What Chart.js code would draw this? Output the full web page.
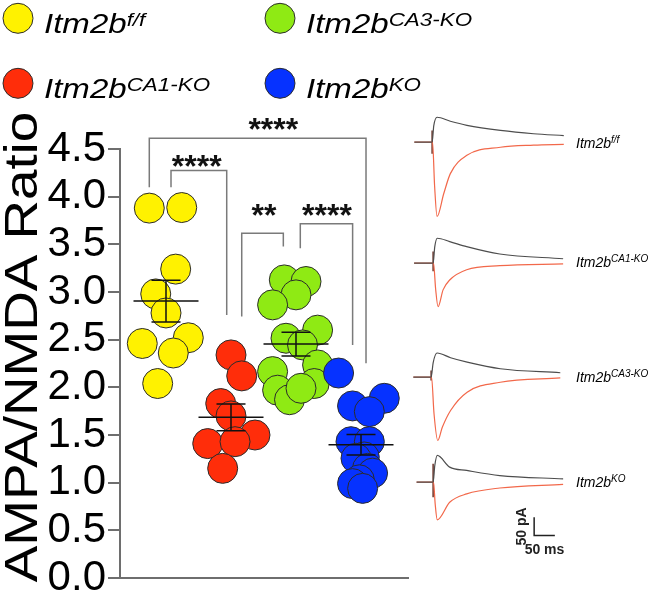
<!DOCTYPE html>
<html><head><meta charset="utf-8">
<script src="https://cdn.jsdelivr.net/npm/chart.js@4.4.0/dist/chart.umd.min.js"></script>
<style>
html,body{margin:0;padding:0;background:#fff;overflow:hidden;}
#wrap{position:relative;width:663px;height:595px;}
canvas{position:absolute;}
</style></head><body>
<div id="wrap">
<canvas id="main" width="663" height="595" style="left:0;top:0;width:663px;height:595px"></canvas>
<canvas id="tr0" width="170" height="125" style="left:398.6px;top:104.6px;width:170px;height:125px"></canvas>
<canvas id="tr1" width="170" height="125" style="left:400.2px;top:226.2px;width:170px;height:125px"></canvas>
<canvas id="tr2" width="170" height="125" style="left:397.6px;top:339.6px;width:170px;height:125px"></canvas>
<canvas id="tr3" width="170" height="125" style="left:400.2px;top:444.6px;width:170px;height:125px"></canvas>
</div>
<script>
// ---------------- DATA ----------------
const genotypeBase = 'Itm2b';
const genotypeSup = ['f/f', 'CA1-KO', 'CA3-KO', 'KO'];
const yTitle = 'AMPA/NMDA Ratio';
const yTickValues = [0, 0.5, 1, 1.5, 2, 2.5, 3, 3.5, 4, 4.5];

// AMPA/NMDA ratio per cell
const ffRatio  = [3.88, 3.886, 3.24, 2.98, 2.78, 2.46, 2.52, 2.36, 2.04];
const ca1Ratio = [2.34, 2.12, 1.83, 1.70, 1.50, 1.41, 1.43, 1.15];
const ca3Ratio = [3.127, 3.11, 2.97, 2.865, 2.60, 2.515, 2.445, 2.235, 2.165, 1.97, 2.04, 1.87, 1.99];
const koRatio  = [2.15, 1.885, 1.805, 1.745, 1.43, 1.43, 1.27, 1.256, 1.15, 1.10, 1.03, 0.99, 0.94];
// horizontal scatter (jitter) of each dot, in category units
const ffJitter  = [-0.257, 0.242, 0.149, -0.158, 0, -0.365, 0.343, 0.112, -0.128];
const ca1Jitter = [0, 0.165, -0.158, 0, 0.369, -0.358, 0.062, -0.128];
const ca3Jitter = [-0.18, 0.154, 0, -0.36, 0.332, -0.154, 0.10, 0.332, -0.36, -0.283, 0.28, -0.10, 0.077];
const koJitter  = [-0.345, 0.358, -0.13, 0.128, -0.154, 0.128, 0.05, -0.077, 0.10, 0.178, -0.026, -0.13, 0.025];

// significance brackets
const bracketLeftX   = [0.743, 1.077, 2.165, 3.066];
const bracketRightX  = [4.077, 1.934, 2.805, 3.871];
const bracketTopY    = [4.614, 4.274, 3.617, 3.715];
const bracketLeftEnd = [4.10, 4.10, 2.742, 3.46];
const bracketRightEnd= [2.253, 2.76, 3.476, 2.445];
const bracketStars   = ['****', '****', '**', '****'];
const bracketStarX   = [2.651, 1.472, 2.507, 3.476];
const bracketStarY   = [4.79, 4.40, 3.88, 3.88];

// example traces: [time ms, current pA]
const ffNmda  = [[-43,0],[0,0],[4,45],[12,68],[44,57],[84,46],[165,32],[245,23],[318,18]];
const ffAmpa  = [[-43,0],[1,0],[6,-120],[12,-203],[28,-141],[44,-86],[84,-36],[165,-14],[245,-8],[318,-6]];
const ffStim  = [[0,32],[0,-32]];
const ca1Nmda = [[-46,0],[0,0],[4,45],[10,68],[40,59],[81,45],[161,25],[314,12]];
const ca1Ampa = [[-46,0],[1,0],[6,-70],[12,-119],[24,-73],[40,-46],[81,-18],[161,-7],[314,-2]];
const ca1Stim = [[0,32],[0,-22]];
const ca3Nmda = [[-43,0],[0,0],[5,40],[14.5,66],[47,53],[87,41],[167,23],[312,12]];
const ca3Ampa = [[-43,0],[1,0],[7,-100],[16,-173],[27,-137],[47,-91],[87,-41],[167,-14],[312,-2]];
const ca3Stim = [[0,18],[0,-9]];
const koNmda  = [[-40,0],[0,0],[4,45],[10,73],[40,41],[81,32],[161,18],[314,9]];
const koAmpa  = [[-40,0],[1,0],[5,-60],[10,-103],[40,-55],[81,-32],[161,-16],[314,-6]];
const koStim  = [[0,50],[0,-41]];
const scaleBarMs = 50;
const scaleBarPA = 50;

// ---------------- STYLE ----------------
const FONT = '"Liberation Sans", Arial, sans-serif';
const groupColors = ['#fff200', '#ff2d0a', '#8fea14', '#0632ff'];
const axisGray = '#6e6e6e';
const bracketGray = '#7a7a7a';

const ratios = [ffRatio, ca1Ratio, ca3Ratio, koRatio];
const jitters = [ffJitter, ca1Jitter, ca3Jitter, koJitter];

function stats(a) {
  const n = a.length, m = a.reduce((s, v) => s + v, 0) / n;
  const sd = Math.sqrt(a.reduce((s, v) => s + (v - m) * (v - m), 0) / (n - 1));
  return { mean: m, sem: sd / Math.sqrt(n) };
}

const pointSets = ratios.map((vals, g) => ({
  data: vals.map((v, i) => ({ x: g + 1 + jitters[g][i], y: v })),
  backgroundColor: groupColors[g], borderColor: '#2b2b2b', borderWidth: 1,
  pointRadius: 15, pointHoverRadius: 15, clip: false, order: 4 - g
}));
const bracketSets = bracketLeftX.map((lx, i) => ({
  data: [{ x: lx, y: bracketLeftEnd[i] }, { x: lx, y: bracketTopY[i] },
         { x: bracketRightX[i], y: bracketTopY[i] }, { x: bracketRightX[i], y: bracketRightEnd[i] }],
  showLine: true, borderColor: bracketGray, borderWidth: 1.5, pointRadius: 0,
  tension: 0, clip: false, order: 10
}));

function drawGenotype(ctx, x, y, sup, size, supSize, raise, stretch) {
  ctx.save();
  ctx.translate(x, y);
  ctx.scale(stretch, 1);
  ctx.fillStyle = '#000';
  ctx.textAlign = 'left';
  ctx.textBaseline = 'alphabetic';
  ctx.font = 'italic ' + size + 'px ' + FONT;
  ctx.fillText(genotypeBase, 0, 0);
  const w = ctx.measureText(genotypeBase).width;
  ctx.font = 'italic ' + supSize + 'px ' + FONT;
  ctx.fillText(sup, w, -raise);
  ctx.restore();
}

const overlay = {
  id: 'overlay',
  afterDatasetsDraw(chart) {
    const ctx = chart.ctx, xs = chart.scales.x, ys = chart.scales.y;
    // mean +/- SEM
    ctx.save();
    ctx.strokeStyle = '#111';
    ctx.lineWidth = 1.5;
    ratios.forEach((vals, g) => {
      const s = stats(vals);
      const cx = xs.getPixelForValue(g + 1);
      const my = ys.getPixelForValue(s.mean);
      const ty = ys.getPixelForValue(s.mean + s.sem);
      const by = ys.getPixelForValue(s.mean - s.sem);
      ctx.beginPath();
      ctx.moveTo(cx - 32.5, my); ctx.lineTo(cx + 32.5, my);
      ctx.moveTo(cx, ty); ctx.lineTo(cx, by);
      ctx.moveTo(cx - 14.5, ty); ctx.lineTo(cx + 14.5, ty);
      ctx.moveTo(cx - 14.5, by); ctx.lineTo(cx + 14.5, by);
      ctx.stroke();
    });
    ctx.restore();
    // stars
    ctx.save();
    ctx.fillStyle = '#111';
    ctx.font = 'bold 32px ' + FONT;
    ctx.textAlign = 'center';
    ctx.textBaseline = 'alphabetic';
    bracketStars.forEach((t, i) => {
      ctx.fillText(t, xs.getPixelForValue(bracketStarX[i]), ys.getPixelForValue(bracketStarY[i]) + 0.573 * 32);
    });
    ctx.restore();
  },
  afterDraw(chart) {
    const ctx = chart.ctx;
    // y title
    ctx.save();
    ctx.translate(37, 347);
    ctx.rotate(-Math.PI / 2);
    ctx.scale(1.19, 1);
    ctx.fillStyle = '#000';
    ctx.font = '46px ' + FONT;
    ctx.textAlign = 'center';
    ctx.textBaseline = 'alphabetic';
    ctx.fillText(yTitle, 0, 0);
    ctx.restore();
    // legend
    const legendPos = [[18, 18.3], [18, 83.3], [280, 18.3], [280, 83.3]];
    legendPos.forEach((p, g) => {
      ctx.save();
      ctx.beginPath();
      ctx.arc(p[0], p[1], 15, 0, Math.PI * 2);
      ctx.fillStyle = groupColors[g];
      ctx.fill();
      ctx.lineWidth = 1;
      ctx.strokeStyle = '#2b2b2b';
      ctx.stroke();
      ctx.restore();
      drawGenotype(ctx, p[0] + 26, p[1] + 15, genotypeSup[g], 28, 19, 7, 1.18);
    });
    // trace labels
    const traceLabelY = [148, 266.7, 381.7, 486.7];
    traceLabelY.forEach((y, g) => drawGenotype(ctx, 576, y, genotypeSup[g], 14, 10, 5, 1));
  }
};

new Chart(document.getElementById('main'), {
  type: 'scatter',
  data: { datasets: [...pointSets, ...bracketSets] },
  options: {
    responsive: false, animation: false, events: [],
    layout: { padding: { left: 0, right: 255, top: 149, bottom: 17 } },
    plugins: { legend: { display: false }, tooltip: { enabled: false } },
    scales: {
      x: {
        type: 'linear', min: 0.2923, max: 4.723,
        ticks: { display: false }, grid: { display: false, drawTicks: false },
        border: { display: true, color: axisGray, width: 2 },
        afterFit(s) { s.height = 0; s.paddingLeft = 0; s.paddingRight = 0; }
      },
      y: {
        type: 'linear', min: 0, max: 4.5,
        afterBuildTicks(s) { s.ticks = yTickValues.map(v => ({ value: v })); },
        ticks: { autoSkip: false, callback: v => Number(v).toFixed(1), font: { family: FONT, size: 42, lineHeight: 1 }, color: '#000', padding: 2 },
        grid: { display: true, drawOnChartArea: false, drawTicks: true, tickLength: 12, color: axisGray, lineWidth: 2 },
        border: { display: true, color: axisGray, width: 2 },
        afterFit(s) { s.width = 120; s.paddingTop = 0; s.paddingBottom = 0; }
      }
    }
  },
  plugins: [overlay]
});

// ---------------- TRACES ----------------
const toXY = a => a.map(p => ({ x: p[0], y: p[1] }));
const traces = [
  [ffNmda, ffAmpa, ffStim],
  [ca1Nmda, ca1Ampa, ca1Stim],
  [ca3Nmda, ca3Ampa, ca3Stim],
  [koNmda, koAmpa, koStim]
];
const scaleBarPlugin = {
  id: 'scalebar',
  afterDatasetsDraw(chart) {
    const ctx = chart.ctx, xs = chart.scales.x, ys = chart.scales.y;
    const x0 = xs.getPixelForValue(244), y0 = ys.getPixelForValue(-146);
    const x1 = xs.getPixelForValue(244 + scaleBarMs), y1 = ys.getPixelForValue(-146 + scaleBarPA);
    ctx.save();
    ctx.fillStyle = '#222';
    ctx.font = 'bold 14px ' + FONT;
    ctx.textAlign = 'center';
    ctx.textBaseline = 'middle';
    ctx.fillText(scaleBarMs + ' ms', (x0 + x1) / 2, y0 + 15);
    ctx.translate(x0 - 12, (y0 + y1) / 2);
    ctx.rotate(-Math.PI / 2);
    ctx.fillText(scaleBarPA + ' pA', 0, 0);
    ctx.restore();
  }
};
traces.forEach((t, i) => {
  const sets = [
    { data: toXY(t[0]), showLine: true, borderColor: '#4d4d4d', borderWidth: 1.2, pointRadius: 0, cubicInterpolationMode: 'monotone' },
    { data: toXY(t[1]), showLine: true, borderColor: '#f2684a', borderWidth: 1.2, pointRadius: 0, cubicInterpolationMode: 'monotone' },
    { data: toXY(t[2]), showLine: true, borderColor: '#6b3328', borderWidth: 1.5, pointRadius: 0, tension: 0 }
  ];
  if (i === 3) {
    sets.push({ data: [{ x: 244, y: -146 + scaleBarPA }, { x: 244, y: -146 }, { x: 244 + scaleBarMs, y: -146 }],
      showLine: true, borderColor: '#222', borderWidth: 1.5, pointRadius: 0, tension: 0 });
  }
  new Chart(document.getElementById('tr' + i), {
    type: 'scatter',
    data: { datasets: sets },
    options: {
      responsive: false, animation: false, events: [],
      layout: { padding: 0 },
      plugins: { legend: { display: false }, tooltip: { enabled: false } },
      scales: {
        x: { type: 'linear', min: -80, max: 330.6, display: false },
        y: { type: 'linear', min: -240, max: 101.5, display: false }
      }
    },
    plugins: i === 3 ? [scaleBarPlugin] : []
  });
});
</script>
</body></html>
